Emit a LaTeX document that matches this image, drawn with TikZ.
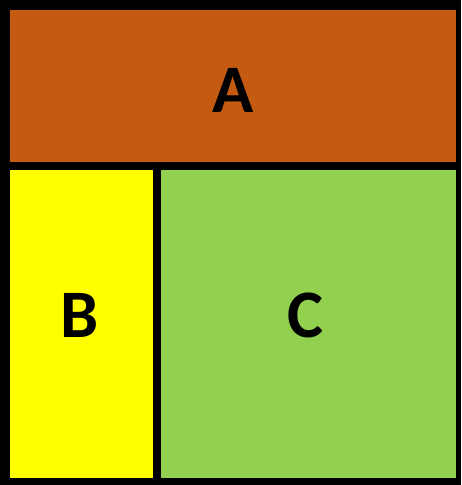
\documentclass[tikz,border=0pt]{standalone}
\usepackage{fontspec}
\setmainfont{Carlito}
\definecolor{cA}{HTML}{C55A11}
\definecolor{cB}{HTML}{FFFF00}
\definecolor{cC}{HTML}{92D050}
\begin{document}
\begin{tikzpicture}[x=1pt,y=-1pt,
  region/.style={inner sep=0pt, outer sep=0pt, draw=none},
  lbl/.style={inner sep=0pt, font=\fontsize{68}{70}\selectfont\bfseries, text=black}]
\fill[black] (0,0) rectangle (461,485);
\useasboundingbox (0,0) rectangle (461,485);
\node[region, fill=cA, minimum width=446pt, minimum height=152pt] (A) at (233,86) {};
\node[region, fill=cB, minimum width=143pt, minimum height=308pt] (B) at (81.5,324) {};
\node[region, fill=cC, minimum width=295pt, minimum height=308pt] (C) at (308.5,324) {};
\node[lbl, anchor=base] (tA) at (233,112) {A};
\node[lbl, anchor=base] (tB) at (80,337) {B};
\node[lbl, anchor=base] (tC) at (305,337) {C};
\end{tikzpicture}
\end{document}
